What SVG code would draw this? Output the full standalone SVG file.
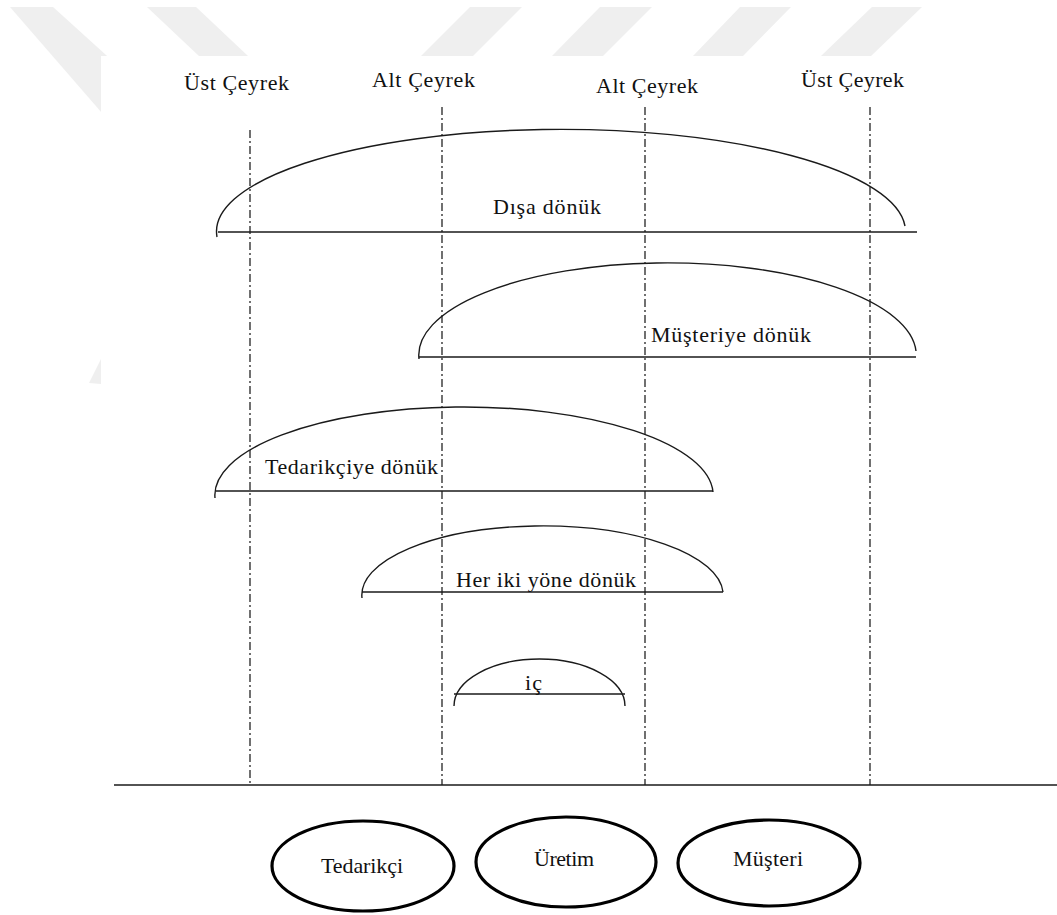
<svg xmlns="http://www.w3.org/2000/svg" width="1057" height="915" viewBox="0 0 1057 915" xml:space="preserve">
  <style>
    .wm { fill: #efefef; }
    .lbl { font-family: "Liberation Serif", "Times New Roman", serif; font-size: 22px; fill: #111; }
    .guide { stroke: #111; stroke-width: 1.2; stroke-dasharray: 8 3 2 3; fill: none; }
    .dome { stroke: #1a1a1a; stroke-width: 1.4; fill: none; }
    .base { stroke: #1a1a1a; stroke-width: 1.5; fill: none; }
    .party { stroke: #000; stroke-width: 3.2; fill: none; }
  </style>

  <rect width="1057" height="915" fill="#ffffff"/>

  <!-- background stripe mark -->
  <g id="stripes">
    <polygon class="wm" points="10,7 53,7 170,113 102,113"/>
    <polygon class="wm" points="147,7 196,7 248,56 199,56"/>
    <polygon class="wm" points="470,7 522,7 473,56 421,56"/>
    <polygon class="wm" points="600,7 652,7 603,56 552,56"/>
    <polygon class="wm" points="740,7 791,7 743,56 693,56"/>
    <polygon class="wm" points="872,7 922,7 871,56 821,56"/>
    <polygon class="wm" points="89,383 101,359 101,384"/>
  </g>

  <!-- drawing area -->
  <rect x="101" y="56" width="956" height="859" fill="#ffffff"/>

  <!-- quartile headings -->
  <g id="headings">
    <text class="lbl" x="184" y="90" textLength="105">Üst Çeyrek</text>
    <text class="lbl" x="372" y="87" textLength="103">Alt Çeyrek</text>
    <text class="lbl" x="596" y="93" textLength="102">Alt Çeyrek</text>
    <text class="lbl" x="801" y="87" textLength="103">Üst Çeyrek</text>
  </g>

  <!-- dash-dot guides and the chain axis -->
  <g id="connectors">
    <line class="guide" x1="250" y1="130" x2="250" y2="785"/>
    <line class="guide" x1="442" y1="107" x2="442" y2="785"/>
    <line class="guide" x1="645" y1="107" x2="645" y2="785"/>
    <line class="guide" x1="870" y1="107" x2="870" y2="785"/>
    <line class="base" x1="114" y1="785" x2="1057" y2="785"/>
  </g>

  <!-- integration scopes -->
  <g id="disa-donuk">
    <path class="dome" d="M217,237 A344,102 0 0 1 905,226"/>
    <line class="base" x1="218" y1="232" x2="917" y2="232"/>
    <text class="lbl" x="493" y="214" textLength="108">Dışa  dönük</text>
  </g>

  <g id="musteriye-donuk">
    <path class="dome" d="M419,359 A248.5,92 0 0 1 916,351"/>
    <line class="base" x1="419" y1="357" x2="916" y2="357"/>
    <text class="lbl" x="651" y="342" textLength="160">Müşteriye  dönük</text>
  </g>

  <g id="tedarikciye-donuk">
    <path class="dome" d="M215,498 A249,88 0 0 1 713,492"/>
    <line class="base" x1="216" y1="491" x2="713" y2="491"/>
    <text class="lbl" x="265" y="474" textLength="173">Tedarikçiye  dönük</text>
  </g>

  <g id="her-iki-yone-donuk">
    <path class="dome" d="M362,598 A180.5,69 0 0 1 723,592"/>
    <line class="base" x1="362" y1="592" x2="723" y2="592"/>
    <text class="lbl" x="456" y="587" textLength="180">Her iki yöne dönük</text>
  </g>

  <g id="ic">
    <path class="dome" d="M454,706 A85.5,47 0 0 1 625,706"/>
    <line class="base" x1="454" y1="694" x2="625" y2="694"/>
    <text class="lbl" x="525" y="690" textLength="17">iç</text>
  </g>

  <!-- supply chain parties -->
  <g id="tedarikci">
    <ellipse class="party" cx="363" cy="866" rx="91" ry="45"/>
    <text class="lbl" x="321" y="873" textLength="82">Tedarikçi</text>
  </g>

  <g id="uretim">
    <ellipse class="party" cx="566" cy="862" rx="90" ry="45"/>
    <text class="lbl" x="534" y="866" textLength="60">Üretim</text>
  </g>

  <g id="musteri">
    <ellipse class="party" cx="769" cy="863" rx="91" ry="43"/>
    <text class="lbl" x="733" y="866" textLength="70">Müşteri</text>
  </g>
</svg>
